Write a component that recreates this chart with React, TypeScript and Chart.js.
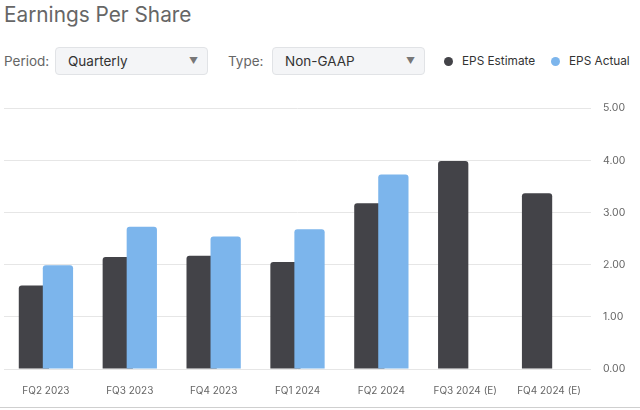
import React, { useEffect, useRef } from "react";
import { Chart, registerables } from "chart.js";

Chart.register(...registerables);

const categories = [
  "FQ2 2023",
  "FQ3 2023",
  "FQ4 2023",
  "FQ1 2024",
  "FQ2 2024",
  "FQ3 2024 (E)",
  "FQ4 2024 (E)",
];
const epsEstimate = [1.6, 2.15, 2.17, 2.05, 3.18, 3.99, 3.37];
const epsActual: (number | null)[] = [1.99, 2.73, 2.54, 2.68, 3.73, null, null];
const yMin = 0;
const yMax = 5;
const yStep = 1;

const FONT = "Inter, 'Noto Sans', sans-serif";
const ESTIMATE_COLOR = "#434348";
const ACTUAL_COLOR = "#7cb5ec";

// draw the estimate bars first so the actual bars overlap them
const drawOrderPlugin = {
  id: "drawOrder",
  beforeDatasetsDraw(chart: any) {
    const meta = chart.getDatasetMeta(0);
    if (meta && !meta.hidden) meta.controller.draw();
  },
  beforeDatasetDraw(_chart: any, args: any) {
    if (args.index === 0) return false;
    return true;
  },
};

function Select({ left, width, value }: { left: number; width: number; value: string }) {
  return (
    <div
      style={{
        position: "absolute",
        left,
        top: 47,
        width,
        height: 28,
        boxSizing: "border-box",
        border: "1px solid #e1e3e6",
        borderRadius: 4,
        background: "#f4f5f7",
      }}
    >
      <span
        style={{
          position: "absolute",
          left: 12,
          top: 0,
          lineHeight: "26px",
          fontSize: 13.5,
          color: "#333",
          whiteSpace: "nowrap",
        }}
      >
        {value}
      </span>
      <span
        style={{
          position: "absolute",
          right: 9,
          top: 0,
          lineHeight: "25px",
          fontSize: 9,
          color: "#777",
        }}
      >
        ▼
      </span>
    </div>
  );
}

function LegendItem({ left, color, text }: { left: number; color: string; text: string }) {
  return (
    <div
      style={{
        position: "absolute",
        left,
        top: 47,
        height: 28,
        display: "flex",
        alignItems: "center",
        whiteSpace: "nowrap",
      }}
    >
      <span style={{ width: 9, height: 9, borderRadius: "50%", background: color, display: "inline-block" }} />
      <span style={{ marginLeft: 9, fontSize: 11.8, color: "#333" }}>{text}</span>
    </div>
  );
}

export default function App() {
  const canvasRef = useRef<HTMLCanvasElement | null>(null);

  useEffect(() => {
    document.body.style.margin = "0";
    const canvas = canvasRef.current;
    if (!canvas) return;
    const chart = new Chart(canvas, {
      type: "bar",
      data: {
        labels: categories,
        datasets: [
          {
            label: "EPS Estimate",
            data: epsEstimate,
            backgroundColor: ESTIMATE_COLOR,
            borderWidth: 0,
            borderRadius: { topLeft: 3, topRight: 3, bottomLeft: 0, bottomRight: 0 },
            borderSkipped: false,
            categoryPercentage: 0.573,
            barPercentage: 1.26,
          },
          {
            label: "EPS Actual",
            data: epsActual,
            backgroundColor: ACTUAL_COLOR,
            borderWidth: 0,
            borderRadius: { topLeft: 3, topRight: 3, bottomLeft: 0, bottomRight: 0 },
            borderSkipped: false,
            categoryPercentage: 0.573,
            barPercentage: 1.26,
          },
        ],
      },
      options: {
        animation: false,
        responsive: false,
        maintainAspectRatio: false,
        layout: { padding: { left: 4, right: 0, top: 17, bottom: 3 } },
        plugins: {
          legend: { display: false },
          tooltip: { enabled: false },
        },
        scales: {
          x: {
            grid: { display: false },
            border: { display: false },
            ticks: {
              color: "#666",
              font: { family: FONT, size: 10 },
              padding: 8,
              maxRotation: 0,
              autoSkip: false,
            },
          },
          y: {
            position: "right",
            min: yMin,
            max: yMax,
            grid: { color: "#e6e6e6", drawTicks: false },
            border: { display: false },
            ticks: {
              stepSize: yStep,
              color: "#666",
              font: { family: FONT, size: 10.5 },
              padding: 12,
              callback: (v: any) => Number(v).toFixed(2),
            },
            afterFit: (scale: any) => {
              scale.width = 49;
            },
          },
        },
      },
      plugins: [drawOrderPlugin],
    });
    return () => chart.destroy();
  }, []);

  return (
    <div
      style={{
        position: "fixed",
        left: 0,
        top: 0,
        width: 640,
        height: 410,
        background: "#fff",
        fontFamily: FONT,
        overflow: "hidden",
      }}
    >
      <div
        style={{
          position: "absolute",
          left: 4,
          top: 2,
          fontSize: 20.8,
          lineHeight: "26px",
          color: "#666",
          whiteSpace: "nowrap",
        }}
      >
        Earnings Per Share
      </div>
      <div style={{ position: "absolute", left: 4, top: 47, lineHeight: "28px", fontSize: 13.5, color: "#666" }}>
        Period:
      </div>
      <Select left={55} width={153} value="Quarterly" />
      <div style={{ position: "absolute", left: 228, top: 47, lineHeight: "28px", fontSize: 13.5, color: "#666" }}>
        Type:
      </div>
      <Select left={272} width={153} value="Non-GAAP" />
      <LegendItem left={444} color={ESTIMATE_COLOR} text="EPS Estimate" />
      <LegendItem left={551} color={ACTUAL_COLOR} text="EPS Actual" />
      <canvas
        ref={canvasRef}
        width={640}
        height={318}
        style={{ position: "absolute", left: 0, top: 90, width: 640, height: 318 }}
      />
      <div style={{ position: "absolute", left: 0, top: 407, width: 640, height: 1, background: "#cfcfcf" }} />
    </div>
  );
}
